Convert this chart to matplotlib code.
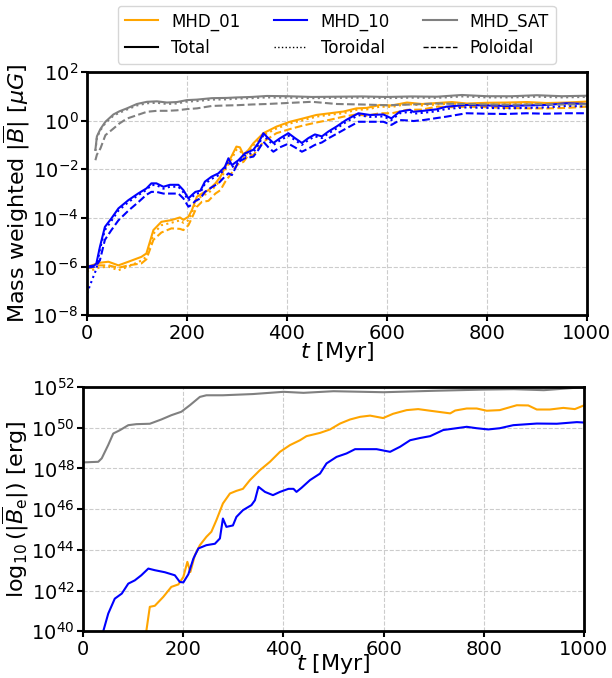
import numpy as np
import matplotlib
matplotlib.use("Agg")
import matplotlib.pyplot as plt
from matplotlib.lines import Line2D

# ---- top panel: mass weighted |B| (log10 of muG) ----
t_sat = [17, 20, 27, 37, 53, 65, 80, 100, 120, 140, 160, 180, 200, 220, 250, 280, 300,
         330, 360, 400, 450, 500, 550, 600, 650, 700, 750, 800, 850, 900, 950, 1000]
sat_tot = [-1.2, -0.65, -0.35, -0.05, 0.25, 0.38, 0.5, 0.68, 0.77, 0.79, 0.74, 0.76, 0.84,
           0.86, 0.92, 0.93, 0.95, 0.97, 1.01, 1.0, 0.97, 0.98, 0.99, 0.97, 0.99, 0.98,
           1.05, 1.0, 1.0, 1.04, 1.0, 1.02]
sat_tor = [-1.25, -0.7, -0.4, -0.1, 0.2, 0.32, 0.45, 0.62, 0.71, 0.73, 0.68, 0.7, 0.78,
           0.8, 0.86, 0.87, 0.9, 0.92, 0.95, 0.94, 0.92, 0.93, 0.94, 0.92, 0.94, 0.93,
           0.99, 0.95, 0.95, 0.98, 0.95, 0.97]
sat_pol = [-1.63, -1.4, -1.15, -0.6, -0.33, -0.12, 0.08, 0.22, 0.36, 0.4, 0.4, 0.42, 0.47,
           0.5, 0.6, 0.62, 0.63, 0.66, 0.68, 0.72, 0.77, 0.68, 0.66, 0.63, 0.66, 0.7,
           0.68, 0.66, 0.65, 0.67, 0.66, 0.67]

t_01 = [0, 10, 23, 43, 63, 83, 109, 119, 133, 149, 169, 186, 193, 203, 210, 220, 230, 243,
        257, 267, 277, 289, 299, 306, 313, 323, 333, 353, 379, 406, 433, 459, 486, 513,
        539, 560, 586, 610, 640, 670, 700, 730, 760, 800, 840, 880, 920, 960, 1000]
m01_tot = [-6.0, -5.95, -5.85, -5.8, -5.95, -5.8, -5.6, -5.46, -4.5, -4.16, -4.09, -3.98,
           -4.08, -3.95, -3.68, -3.13, -3.0, -2.86, -2.58, -2.31, -1.9, -1.48, -1.07, -1.1,
           -1.4, -1.21, -0.93, -0.52, -0.25, -0.05, 0.09, 0.23, 0.3, 0.37, 0.5, 0.52, 0.64,
           0.62, 0.74, 0.68, 0.72, 0.76, 0.7, 0.73, 0.74, 0.76, 0.72, 0.74, 0.78]
m01_tor = [-6.2, -6.15, -6.05, -6.0, -6.15, -6.0, -5.75, -5.6, -4.65, -4.3, -4.2, -4.1,
           -4.2, -4.1, -3.8, -3.25, -3.1, -2.98, -2.7, -2.45, -2.02, -1.6, -1.2, -1.22,
           -1.5, -1.3, -1.02, -0.6, -0.33, -0.12, 0.02, 0.16, 0.24, 0.3, 0.44, 0.46, 0.57,
           0.56, 0.68, 0.62, 0.66, 0.7, 0.64, 0.67, 0.68, 0.7, 0.66, 0.68, 0.72]
m01_pol = [-6.05, -6.05, -5.95, -5.95, -6.05, -5.95, -5.87, -5.7, -4.9, -4.6, -4.43, -4.45,
           -4.5, -4.3, -4.0, -3.54, -3.34, -3.3, -3.0, -2.86, -2.5, -2.17, -1.85, -1.75,
           -1.7, -1.42, -1.42, -0.87, -0.52, -0.35, -0.2, -0.08, 0.03, 0.16, 0.25, 0.2,
           0.3, 0.3, 0.44, 0.45, 0.57, 0.55, 0.57, 0.55, 0.52, 0.5, 0.5, 0.52, 0.57]

t_10 = [0, 15, 19, 26, 36, 49, 63, 83, 103, 119, 129, 139, 153, 166, 183, 193, 203, 210,
        217, 227, 236, 249, 263, 276, 283, 290, 303, 316, 333, 343, 353, 363, 373, 386,
        403, 416, 430, 443, 456, 470, 483, 499, 519, 543, 566, 593, 609, 626, 646, 653,
        673, 699, 719, 759, 799, 839, 879, 919, 959, 1000]
m10_tot = [-6.0, -5.95, -5.87, -5.19, -4.37, -4.02, -3.61, -3.27, -2.99, -2.79, -2.58,
           -2.58, -2.72, -2.64, -2.64, -2.86, -3.2, -3.06, -2.93, -2.88, -2.51, -2.31, -2.17,
           -1.9, -1.55, -1.83, -1.63, -1.35, -1.2, -0.92, -0.52, -0.73, -0.92, -0.73, -0.52,
           -0.72, -0.92, -0.72, -0.57, -0.65, -0.45, -0.25, 0.03, 0.3, 0.23, 0.25, 0.09,
           0.37, 0.44, 0.36, 0.4, 0.46, 0.57, 0.64, 0.62, 0.6, 0.62, 0.64, 0.71, 0.68]
m10_tor = [-7.1, -6.3, -6.1, -5.3, -4.5, -4.12, -3.7, -3.35, -3.06, -2.85, -2.65, -2.65,
           -2.8, -2.72, -2.72, -2.95, -3.28, -3.15, -3.02, -2.96, -2.6, -2.4, -2.25, -2.0,
           -1.65, -1.92, -1.72, -1.45, -1.3, -1.0, -0.6, -0.82, -1.0, -0.82, -0.62, -0.8,
           -1.0, -0.8, -0.65, -0.72, -0.53, -0.33, -0.05, 0.22, 0.15, 0.17, 0.02, 0.3, 0.36,
           0.28, 0.32, 0.38, 0.48, 0.54, 0.52, 0.5, 0.52, 0.54, 0.6, 0.58]
m10_pol = [-6.05, -6.0, -5.95, -5.74, -4.9, -4.5, -4.1, -3.7, -3.35, -3.05, -2.93, -2.93,
           -3.0, -3.0, -3.0, -3.2, -3.54, -3.45, -3.3, -3.2, -2.93, -2.75, -2.58, -2.3,
           -2.17, -2.24, -1.7, -1.55, -1.48, -1.2, -0.87, -1.1, -1.28, -1.1, -0.95, -1.1,
           -1.28, -1.15, -1.0, -0.9, -0.73, -0.55, -0.32, -0.05, -0.05, -0.05, -0.18, 0.02,
           0.0, -0.02, 0.02, 0.1, 0.16, 0.3, 0.28, 0.27, 0.3, 0.28, 0.3, 0.3]

# ---- bottom panel: energy (log10 of erg) ----
te_sat = [0, 30, 37, 50, 60, 73, 90, 106, 133, 156, 176, 196, 213, 233, 246, 279, 339,
          400, 440, 500, 600, 700, 800, 860, 920, 1000]
e_sat = [48.3, 48.33, 48.5, 49.16, 49.72, 49.88, 50.13, 50.18, 50.2, 50.41, 50.62, 50.79,
         51.11, 51.52, 51.6, 51.6, 51.66, 51.77, 51.72, 51.8, 51.75, 51.82, 51.88, 51.9,
         51.85, 52.0]

te_01 = [126, 133, 143, 160, 176, 190, 200, 208, 214, 223, 233, 246, 256, 266, 279, 293,
         306, 319, 333, 353, 373, 393, 413, 433, 446, 473, 493, 513, 533, 553, 573, 599,
         619, 646, 669, 693, 733, 743, 766, 786, 806, 832, 866, 889, 906, 932, 959, 982,
         1000]
e_01 = [40.0, 41.2, 41.25, 41.69, 42.18, 42.3, 42.67, 43.41, 42.91, 43.74, 44.23, 44.64,
        44.89, 45.46, 46.28, 46.77, 46.9, 47.0, 47.43, 47.92, 48.33, 48.82, 49.15, 49.39,
        49.59, 49.75, 49.92, 50.21, 50.41, 50.54, 50.6, 50.48, 50.69, 50.87, 50.92, 50.84,
        50.71, 50.85, 50.95, 50.95, 50.84, 50.87, 51.11, 51.1, 50.9, 50.9, 50.98, 50.92,
        51.1]

te_10 = [40, 50, 63, 77, 90, 103, 116, 130, 143, 163, 183, 193, 200, 210, 220, 230, 246,
         263, 273, 279, 286, 299, 306, 319, 336, 343, 350, 363, 379, 393, 410, 420, 426,
         436, 453, 473, 486, 506, 526, 543, 566, 586, 613, 633, 653, 673, 693, 719, 766,
         786, 809, 832, 859, 906, 946, 986, 1000]
e_10 = [40.0, 40.87, 41.6, 41.85, 42.34, 42.5, 42.75, 43.08, 43.0, 42.9, 42.75, 42.42,
        42.4, 42.8, 43.57, 44.07, 44.23, 44.3, 44.56, 45.54, 45.13, 45.2, 45.62, 45.95,
        46.2, 46.44, 47.1, 46.85, 46.69, 46.85, 47.0, 47.0, 46.85, 47.05, 47.43, 47.75,
        48.25, 48.57, 48.74, 48.95, 48.95, 48.95, 48.82, 49.07, 49.39, 49.5, 49.59, 49.89,
        50.05, 49.98, 49.92, 49.98, 50.13, 50.21, 50.2, 50.28, 50.26]

plt.rcParams["font.family"] = "DejaVu Sans"

fig = plt.figure(figsize=(6.12, 6.78), dpi=100)
ax1 = fig.add_axes([0.142, 0.535, 0.817, 0.359])
ax2 = fig.add_axes([0.136, 0.069, 0.818, 0.360])

top_data = [
    (t_01, m01_tot, m01_tor, m01_pol, "orange"),
    (t_10, m10_tot, m10_tor, m10_pol, "blue"),
    (t_sat, sat_tot, sat_tor, sat_pol, "grey"),
]
for t, tot, tor, pol, c in top_data:
    ax1.plot(t, 10 ** np.array(tot), color=c, lw=1.5, ls="-")
    ax1.plot(t, 10 ** np.array(tor), color=c, lw=1.5, ls=":")
    ax1.plot(t, 10 ** np.array(pol), color=c, lw=1.5, ls="--")

ax2.plot(te_sat, 10 ** np.array(e_sat), color="grey", lw=1.5)
ax2.plot(te_01, 10 ** np.array(e_01), color="orange", lw=1.5)
ax2.plot(te_10, 10 ** np.array(e_10), color="blue", lw=1.5)

ax1.set_yscale("log")
ax1.set_ylim(1e-8, 1e2)
ax1.set_yticks([1e-8, 1e-6, 1e-4, 1e-2, 1e0, 1e2])
ax2.set_yscale("log")
ax2.set_ylim(1e40, 1e52)
ax2.set_yticks([1e40, 1e42, 1e44, 1e46, 1e48, 1e50, 1e52])

for ax in (ax1, ax2):
    ax.set_xlim(0, 1000)
    ax.set_xticks([0, 200, 400, 600, 800, 1000])
    ax.minorticks_off()
    ax.grid(True, ls="--", color="#cccccc", lw=0.8)
    ax.tick_params(labelsize=14, width=1.5, length=4, pad=2)
    for s in ax.spines.values():
        s.set_linewidth(2)

ax1.set_xlabel(r"$t$ [Myr]", fontsize=16, labelpad=-2)
ax2.set_xlabel(r"$t$ [Myr]", fontsize=16, labelpad=-5)
ax1.set_ylabel(r"Mass weighted $|\overline{B}|$ [$\mu G$]", fontsize=16, labelpad=0)
ax2.set_ylabel(r"$\log_{10}(|\overline{B}_{\rm e}|)$ [erg]", fontsize=16, labelpad=0)

handles = [
    Line2D([], [], color="orange", lw=1.5),
    Line2D([], [], color="black", lw=1.5),
    Line2D([], [], color="blue", lw=1.5),
    Line2D([], [], color="black", lw=1, ls=":"),
    Line2D([], [], color="grey", lw=1.5),
    Line2D([], [], color="black", lw=1, ls="--"),
]
labels = ["MHD_01", "Total", "MHD_10", "Toroidal", "MHD_SAT", "Poloidal"]
ax1.legend(handles, labels, ncol=3, loc="lower center", bbox_to_anchor=(0.5, 1.0),
           fontsize=12, columnspacing=2.0, handlelength=2.0, borderaxespad=0.5)

fig.savefig("out.png", dpi=100)
